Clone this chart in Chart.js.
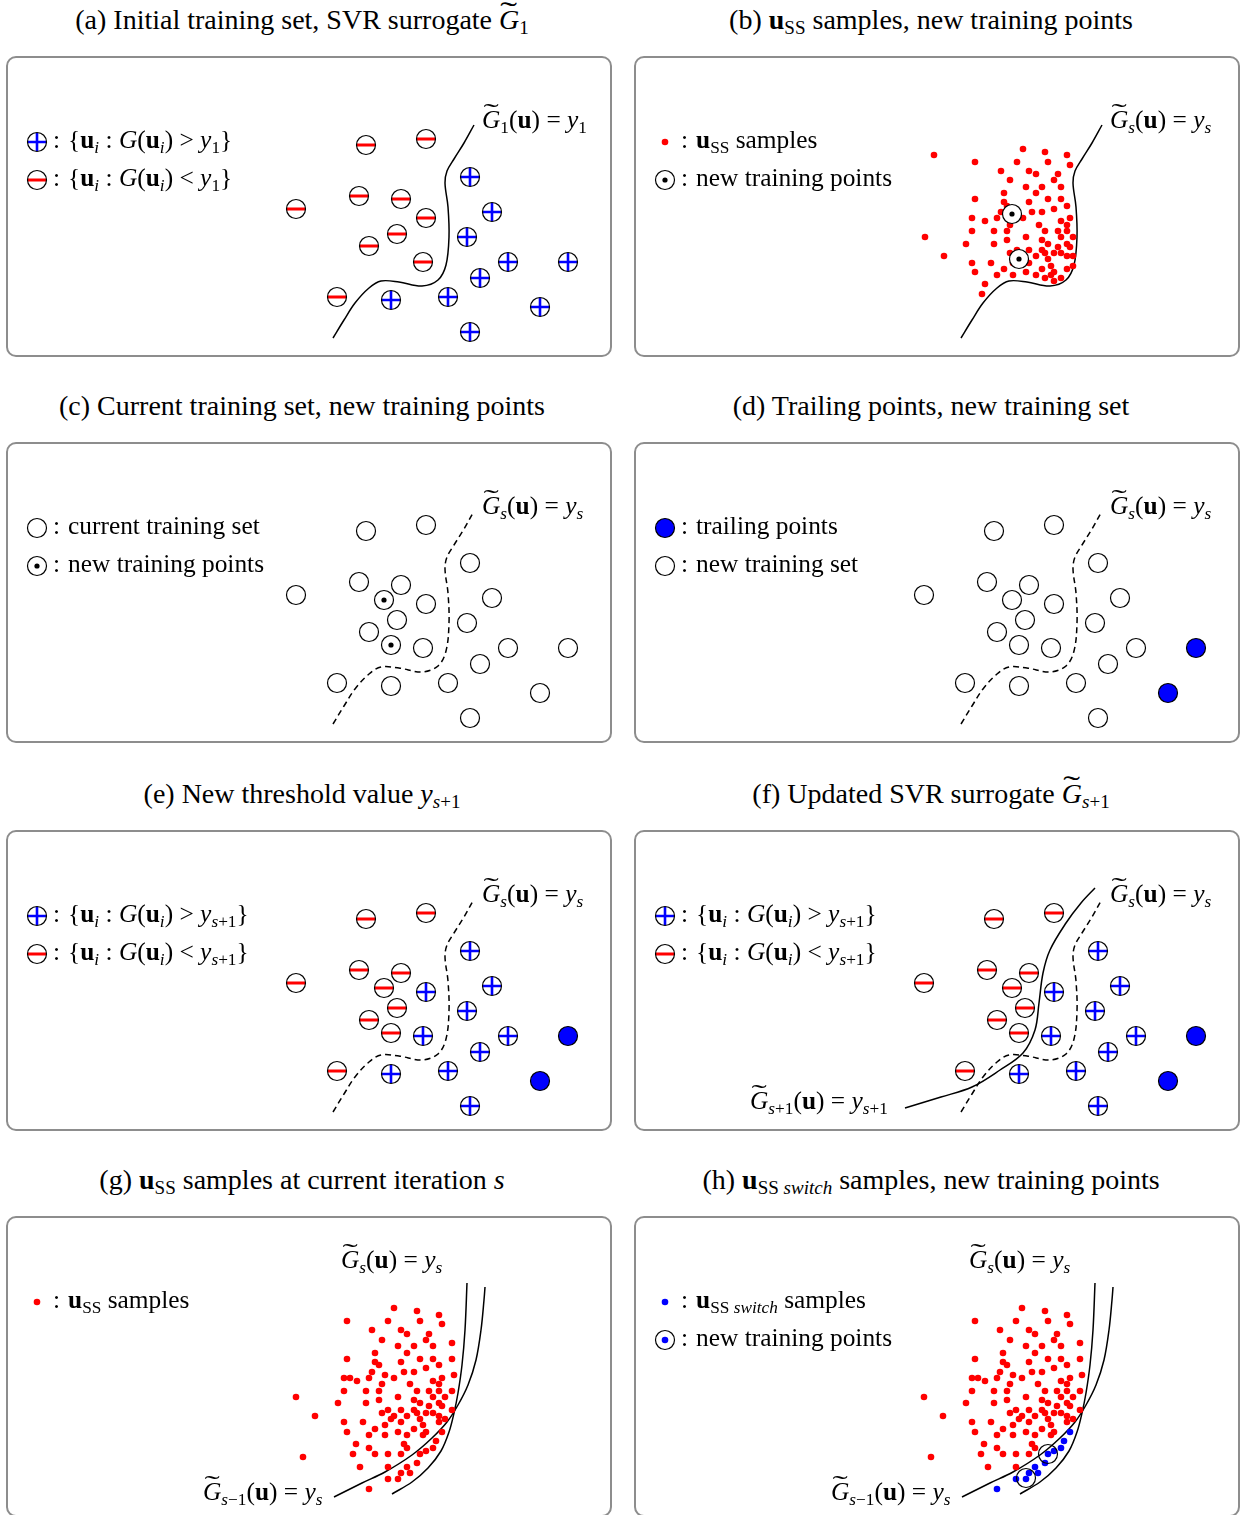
<!DOCTYPE html>
<html>
<head>
<meta charset="utf-8">
<script src="https://cdn.jsdelivr.net/npm/chart.js@4.4.0/dist/chart.umd.min.js"></script>
<style>
  body { margin: 0; width: 1240px; height: 1515px; overflow: hidden; background: #fff; position: relative;
         font-family: "Liberation Serif", "Times New Roman", serif; color: #000; }
  .box { position: absolute; width: 602px; height: 297px; border: 2px solid #8d8d8d; border-radius: 10px; }
  canvas.plot { position: absolute; }
  canvas.key { position: absolute; }
  .txt { position: absolute; font-size: 25.4px; line-height: 1; white-space: nowrap; }
  .title { font-size: 28px; transform: translateX(-50%); }
  sub { font-size: 0.68em; vertical-align: -0.28em; line-height: 0; }
  .gt { position: relative; display: inline-block; font-style: italic; }
  .tl { position: absolute; left: 0.2em; top: -0.27em; font-style: normal; font-size: 0.95em; transform: scaleX(1.9); }
</style>
</head>
<body>
<script>
// ---- data (panel units: 0..606 across, 0..301 down) ----
// initial training set
const belowY1 = [[359,88],[419,82],[289,152],[352,139],[394,142],[419,161],[390,177],[362,189],[416,205],[330,240]];
const aboveY1 = [[463,120],[485,155],[460,180],[501,205],[473,221],[441,240],[384,243],[463,275]];
const trailPts = [[561,205],[533,250]];
const newPts = [[377,157],[384,202]];
// after new threshold y_{s+1}
const belowYs1 = [[359,88],[419,82],[289,152],[352,139],[394,142],[377,157],[390,177],[362,189],[384,202],[330,240]];
const aboveYs1 = [[463,120],[485,155],[460,180],[501,205],[473,221],[441,240],[384,243],[463,275],[419,161],[416,205]];

// subset simulation samples, panel (b)
const ssB = [[299,98],[340,105],[388,92],[410,95],[432,98],[382,105],[413,105],[435,108],[366,114],[394,114],
  [401,117],[423,117],[375,123],[419,123],[391,130],[407,130],[426,130],[369,136],[401,136],[340,142],
  [413,142],[426,142],[369,145],[394,145],[372,149],[432,149],[419,152],[366,155],[397,155],[407,155],
  [337,161],[350,164],[362,161],[388,161],[435,161],[426,164],[432,168],[375,168],[404,168],[337,174],
  [359,174],[372,174],[410,174],[423,174],[432,174],[290,180],[391,180],[426,180],[438,180],[331,187],
  [359,187],[372,183],[407,183],[413,187],[423,190],[432,187],[435,190],[309,199],[382,193],[394,193],
  [407,193],[410,196],[419,196],[426,196],[432,199],[438,199],[375,196],[401,199],[413,202],[337,206],
  [356,206],[378,206],[394,206],[416,209],[432,212],[438,209],[340,215],[369,212],[378,218],[391,215],
  [407,212],[419,215],[362,218],[401,218],[410,221],[416,218],[426,221],[419,224],[350,227],[347,237]];

// subset simulation samples, panels (g) and (h)
const ssCore = [[387,91],[410,94],[432,98],[340,104],[381,104],[413,104],[435,107],[365,113],[394,113],[400,117],
  [422,117],[375,123],[419,123],[391,129],[407,129],[426,129],[445,126],[368,136],[400,136],[340,142],
  [413,142],[426,142],[445,142],[368,145],[394,145],[372,148],[432,148],[419,151],[365,155],[397,155],
  [407,155],[337,161],[343,161],[362,161],[378,158],[387,161],[435,161],[447,158],[350,164],[426,164],
  [432,167],[375,167],[403,167],[289,180],[337,174],[359,174],[372,174],[410,174],[422,174],[432,174],
  [445,174],[331,186],[359,186],[372,183],[391,180],[407,183],[413,186],[426,180],[432,186],[438,180],
  [435,189],[422,189],[308,199],[375,196],[381,193],[387,199],[394,193],[407,193],[410,196],[419,196],
  [426,196],[432,199],[445,193],[384,202],[400,199],[413,202],[438,202],[337,205],[356,205],[378,208],
  [394,205],[416,208],[432,205],[340,215],[368,212],[391,215],[407,212],[378,218],[362,218],[400,218],
  [419,215],[416,218],[349,227],[397,227],[400,231],[362,231],[346,237],[368,237],[381,237],[394,237],
  [296,240],[353,250],[381,250]];
const ssSwitch = [[435,215],[429,224],[426,231],[419,234],[413,237],[410,246],[403,256],[400,250],[394,256],[391,262],[381,262],[362,272]];
const switchNew = [[413,237],[391,261]];

// limit-state curves
const curveS = [[326,281],[337,263],[348,246],[362,231],[374,224],[392,225],[415,229],[431,223],[439,208],[442,180],[441,150],[438,126],[440,114],[447,102],[457,86],[467,68]];
const curveS1 = [[270,277],[306,266],[337,256],[365,239],[388,222],[400,199],[404,172],[408,142],[415,119],[431,92],[446,72],[460,57]];
const curvePrev = [[327,280],[355,266],[378,255],[405,238],[425,221],[440,205],[451,188],[461,168],[469,143],[474,113],[477,83],[478,70]];
const curveCur = [[385,277],[405,265],[421,251],[434,234],[442,215],[447,196],[451,176],[455,148],[458,113],[460,66]];

// ---- text helpers ----
const U = '<b>u</b>';
const Ui = '<b>u</b><sub><i>i</i></sub>';
const Gt = s => '<span class="gt">G<span class="tl">˜</span></span><sub>' + s + '</sub>';
const Y = s => '<i>y</i><sub>' + s + '</sub>';
const s1 = '<i>s</i>+1';
const Uss = '<b>u</b><sub>SS</sub>';
const Usw = '<b>u</b><sub>SS <i>switch</i></sub>';
const EQ = ' = ';
const set = (op, y) => '{' + Ui + '&#8197;:&#8197;<i>G</i>(' + Ui + ') ' + op + ' ' + y + '}';

// ---- markers ----
const R = 9.5;
function drawMarker(g, kind, x, y) {
  g.save();
  if (kind === 'dot' || kind === 'bdot') {
    g.fillStyle = kind === 'dot' ? '#ff0000' : '#0000ff';
    g.beginPath(); g.arc(x, y, 3.3, 0, 2 * Math.PI); g.fill();
    g.restore(); return;
  }
  g.beginPath(); g.arc(x, y, R, 0, 2 * Math.PI);
  if (kind !== 'ring' && kind !== 'bring') {
    g.fillStyle = kind === 'filled' ? '#0000ff' : '#fff';
    g.fill();
  }
  g.save(); g.clip();
  if (kind === 'plus') {
    g.strokeStyle = '#0000ff'; g.lineWidth = 2.6;
    g.beginPath(); g.moveTo(x - R, y); g.lineTo(x + R, y); g.moveTo(x, y - R); g.lineTo(x, y + R); g.stroke();
  }
  if (kind === 'minus') {
    g.strokeStyle = '#ff0000'; g.lineWidth = 3;
    g.beginPath(); g.moveTo(x - R, y); g.lineTo(x + R, y); g.stroke();
  }
  g.restore();
  g.beginPath(); g.arc(x, y, R, 0, 2 * Math.PI);
  g.lineWidth = 1.2; g.strokeStyle = '#000'; g.stroke();
  if (kind === 'target') { g.fillStyle = '#000'; g.beginPath(); g.arc(x, y, 2.6, 0, 2 * Math.PI); g.fill(); }
  if (kind === 'bring') { g.fillStyle = '#0000ff'; g.beginPath(); g.arc(x, y, 3.3, 0, 2 * Math.PI); g.fill(); }
  g.restore();
}
const styles = {};
['dot', 'bdot', 'plus', 'minus', 'open', 'filled', 'target', 'ring', 'bring'].forEach(k => {
  const c = document.createElement('canvas'); c.width = 24; c.height = 24;
  drawMarker(c.getContext('2d'), k, 12, 12);
  styles[k] = c;
});

function pts(points, kind) {
  return { data: points.map(([x, y]) => ({ x, y })), pointStyle: styles[kind], pointRadius: 10,
           pointHoverRadius: 10, showLine: false, clip: false };
}
function curve(points, dashed) {
  return { data: points.map(([x, y]) => ({ x, y })), showLine: true, pointRadius: 0, pointHoverRadius: 0,
           borderColor: '#000', borderWidth: 1.5, borderDash: dashed ? [6, 4] : [], tension: 0.35,
           fill: false, clip: false };
}

const colLeft = [7, 635], rowTop = [57, 443, 831, 1217], titleX = [302, 931];
const GsLab = Gt('<i>s</i>') + '(' + U + ')' + EQ + Y('<i>s</i>');
const GprevLab = Gt('<i>s</i>−1') + '(' + U + ')' + EQ + Y('<i>s</i>');

const panels = [
  { c: 0, r: 0, title: '(a) Initial training set, SVR surrogate ' + Gt('1'),
    legend: [['plus', set('&gt;', Y('1'))], ['minus', set('&lt;', Y('1'))]],
    labels: [[475, 65, Gt('1') + '(' + U + ')' + EQ + Y('1')]],
    sets: [pts(belowY1, 'minus'), pts(aboveY1.concat(trailPts), 'plus'), curve(curveS, false)] },
  { c: 1, r: 0, title: '(b) ' + Uss + ' samples, new training points',
    legend: [['dot', Uss + ' samples'], ['target', 'new training points']],
    labels: [[475, 65, GsLab]],
    sets: [pts(newPts, 'target'), pts(ssB, 'dot'), curve(curveS, false)] },
  { c: 0, r: 1, title: '(c) Current training set, new training points',
    legend: [['open', 'current training set'], ['target', 'new training points']],
    labels: [[475, 65, GsLab]],
    sets: [pts(newPts, 'target'), pts(belowY1.concat(aboveY1, trailPts), 'open'), curve(curveS, true)] },
  { c: 1, r: 1, title: '(d) Trailing points, new training set',
    legend: [['filled', 'trailing points'], ['open', 'new training set']],
    labels: [[475, 65, GsLab]],
    sets: [pts(trailPts, 'filled'), pts(belowY1.concat(aboveY1, newPts), 'open'), curve(curveS, true)] },
  { c: 0, r: 2, title: '(e) New threshold value ' + Y(s1),
    legend: [['plus', set('&gt;', Y(s1))], ['minus', set('&lt;', Y(s1))]],
    labels: [[475, 65, GsLab]],
    sets: [pts(trailPts, 'filled'), pts(belowYs1, 'minus'), pts(aboveYs1, 'plus'), curve(curveS, true)] },
  { c: 1, r: 2, title: '(f) Updated SVR surrogate ' + Gt(s1),
    legend: [['plus', set('&gt;', Y(s1))], ['minus', set('&lt;', Y(s1))]],
    labels: [[475, 65, GsLab], [115, 272, Gt(s1) + '(' + U + ')' + EQ + Y(s1)]],
    sets: [pts(trailPts, 'filled'), pts(belowYs1, 'minus'), pts(aboveYs1, 'plus'), curve(curveS, true), curve(curveS1, false)] },
  { c: 0, r: 3, title: '(g) ' + Uss + ' samples at current iteration <i>s</i>',
    legend: [['dot', Uss + ' samples']],
    labels: [[334, 45, GsLab], [196, 277, GprevLab]],
    sets: [pts(ssCore.concat(ssSwitch), 'dot'), curve(curvePrev, false), curve(curveCur, false)] },
  { c: 1, r: 3, title: '(h) ' + Usw + ' samples, new training points',
    legend: [['bdot', Usw + ' samples'], ['bring', 'new training points']],
    labels: [[334, 45, GsLab], [196, 277, GprevLab]],
    sets: [pts(switchNew, 'ring'), pts(ssSwitch, 'bdot'), pts(ssCore, 'dot'), curve(curvePrev, false), curve(curveCur, false)] }
];

function addText(x, y, html, cls) {
  const d = document.createElement('div');
  d.className = 'txt' + (cls ? ' ' + cls : '');
  d.style.left = x + 'px'; d.style.top = y + 'px';
  d.innerHTML = html;
  document.body.appendChild(d);
  return d;
}

panels.forEach(p => {
  const L = colLeft[p.c], T = rowTop[p.r];
  addText(titleX[p.c], T - 51, p.title, 'title');
  const box = document.createElement('div');
  box.className = 'box'; box.style.left = (L - 1) + 'px'; box.style.top = (T - 1) + 'px';
  document.body.appendChild(box);

  const cv = document.createElement('canvas');
  cv.className = 'plot'; cv.width = 606; cv.height = 301;
  cv.style.left = L + 'px'; cv.style.top = T + 'px';
  document.body.appendChild(cv);

  p.legend.forEach(([kind, html], i) => {
    const yc = 85 + 38 * i;
    const k = document.createElement('canvas');
    k.className = 'key'; k.width = 24; k.height = 24;
    k.style.left = (L + 18) + 'px'; k.style.top = (T + yc - 12) + 'px';
    drawMarker(k.getContext('2d'), kind, 12, 12);
    document.body.appendChild(k);
    addText(L + 46, T + yc - 15, ':');
    addText(L + 61, T + yc - 15, html);
  });
  p.labels.forEach(([x, y, html]) => addText(L + x, T + y - 15, html));

  new Chart(cv, {
    type: 'scatter',
    data: { datasets: p.sets },
    options: {
      responsive: false, animation: false, events: [], devicePixelRatio: 1,
      layout: { padding: 0, autoPadding: false },
      plugins: { legend: { display: false }, tooltip: { enabled: false } },
      scales: {
        x: { type: 'linear', min: 0, max: 606, display: false },
        y: { type: 'linear', min: 0, max: 301, reverse: true, display: false }
      }
    }
  });
});
</script>
</body>
</html>
